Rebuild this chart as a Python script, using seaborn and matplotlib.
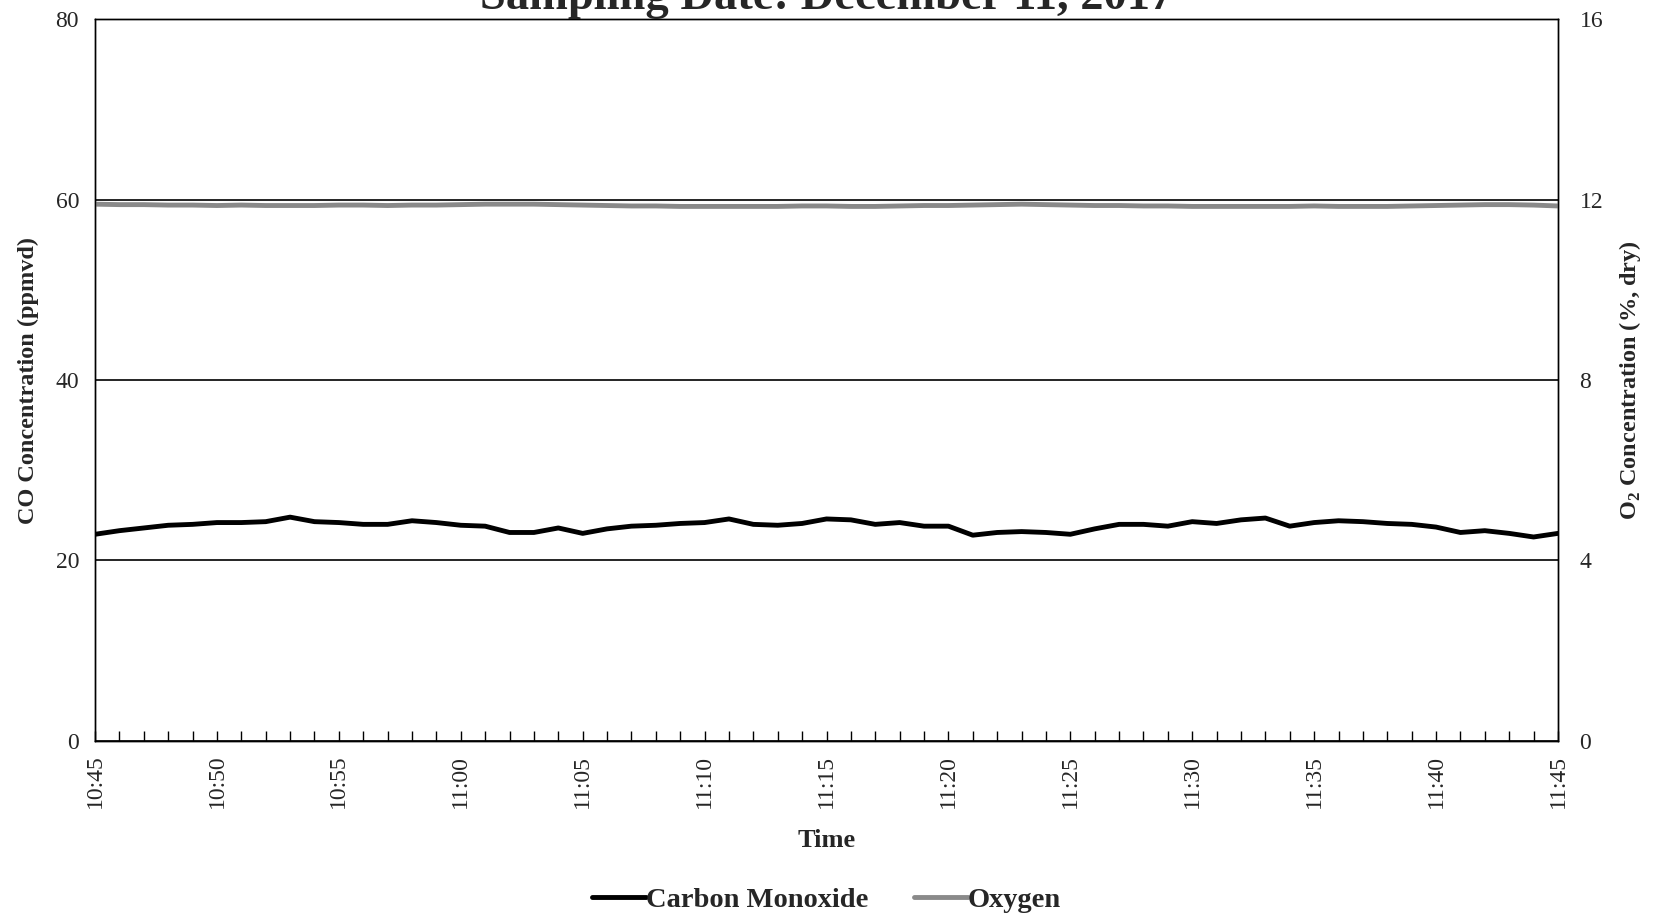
import numpy as np
import pandas as pd
import matplotlib
matplotlib.use('Agg')
import matplotlib.pyplot as plt
import seaborn as sns

# data (one reading per minute, 10:45 - 11:45)
minutes = list(range(61))
co_ppm = [22.9, 23.3, 23.6, 23.9, 24.0, 24.2, 24.2, 24.3, 24.8, 24.3,
          24.2, 24.0, 24.0, 24.4, 24.2, 23.9, 23.8, 23.1, 23.1, 23.6,
          23.0, 23.5, 23.8, 23.9, 24.1, 24.2, 24.6, 24.0, 23.9, 24.1,
          24.6, 24.5, 24.0, 24.2, 23.8, 23.8, 22.8, 23.1, 23.2, 23.1,
          22.9, 23.5, 24.0, 24.0, 23.8, 24.3, 24.1, 24.5, 24.7, 23.8,
          24.2, 24.4, 24.3, 24.1, 24.0, 23.7, 23.1, 23.3, 23.0, 22.6,
          23.0]
o2_pct = [11.90, 11.89, 11.89, 11.88, 11.88, 11.87, 11.88, 11.87, 11.87, 11.87,
          11.88, 11.88, 11.87, 11.88, 11.88, 11.89, 11.90, 11.90, 11.90, 11.89,
          11.88, 11.87, 11.86, 11.86, 11.85, 11.85, 11.85, 11.85, 11.85, 11.86,
          11.86, 11.85, 11.85, 11.86, 11.87, 11.87, 11.88, 11.89, 11.90, 11.89,
          11.88, 11.87, 11.87, 11.86, 11.86, 11.85, 11.85, 11.85, 11.85, 11.85,
          11.86, 11.85, 11.85, 11.85, 11.86, 11.87, 11.88, 11.89, 11.89, 11.88,
          11.86]
tick_labels = ['10:45', '10:50', '10:55', '11:00', '11:05', '11:10', '11:15',
               '11:20', '11:25', '11:30', '11:35', '11:40', '11:45']
co_ticks = [0, 20, 40, 60, 80]
o2_ticks = [0, 4, 8, 12, 16]

df = pd.DataFrame({'minute': minutes, 'co': co_ppm, 'o2': o2_pct})

sns.set_style('white')
plt.rcParams['font.family'] = ['Liberation Serif', 'DejaVu Serif']
plt.rcParams['mathtext.fontset'] = 'custom'
plt.rcParams['mathtext.rm'] = 'Liberation Serif'
plt.rcParams['mathtext.bf'] = 'Liberation Serif:bold'

fig = plt.figure(figsize=(16.53, 9.18), dpi=100)
ax = fig.add_axes([0.0575, 0.193, 0.885, 0.786])
ax2 = ax.twinx()

sns.lineplot(data=df, x='minute', y='co', ax=ax, color='black', linewidth=4.5,
             label='Carbon Monoxide', legend=False)
sns.lineplot(data=df, x='minute', y='o2', ax=ax2, color='#8a8a8a', linewidth=4.5,
             label='Oxygen', legend=False)

ax.set_xlim(0, 60)
ax.set_ylim(0, 80)
ax2.set_ylim(0, 16)
ax.set_yticks(co_ticks)
ax2.set_yticks(o2_ticks)
ax.set_xticks(range(0, 61, 5))
ax.set_xticks(range(0, 61), minor=True)
ax.set_xticklabels(tick_labels, rotation=90, fontsize=17)
ax.set_yticklabels([str(v) for v in co_ticks], fontsize=17)
ax2.set_yticklabels([str(v) for v in o2_ticks], fontsize=17)

for a in (ax, ax2):
    for s in a.spines.values():
        s.set_color('black')
        s.set_linewidth(1.0)
ax.tick_params(axis='x', which='both', bottom=True, direction='in', length=7,
               width=1, color='black', pad=10)
ax.tick_params(axis='y', left=False, pad=8)
ax2.tick_params(axis='y', right=False, pad=12)

ax.yaxis.grid(True, color='black', linewidth=1.2)
ax.xaxis.grid(False)
ax2.grid(False)

ax.set_xlabel('Time', fontsize=19, fontweight='bold', labelpad=15)
ax.set_ylabel('CO Concentration (ppmvd)', fontsize=17.5, fontweight='bold', labelpad=12)
ax2.set_ylabel(r'O$_\mathbf{2}$ Concentration (%, dry)', fontsize=17.5, fontweight='bold',
               rotation=90, labelpad=10)

fig.text(0.5, 0.990, 'Sampling Date: December 11, 2017', ha='center', va='baseline',
         fontsize=33.5, fontweight='bold')

h1, l1 = ax.get_legend_handles_labels()
h2, l2 = ax2.get_legend_handles_labels()
for h in h1 + h2:
    h.set_linewidth(3.5)
fig.legend(h1 + h2, l1 + l2, loc='center', bbox_to_anchor=(0.5, 0.02), ncol=2,
           frameon=False, handlelength=1.9, handletextpad=0.0,
           columnspacing=1.6, prop={'weight': 'bold', 'size': 20.5})

fig.savefig('out.png', dpi=100)
